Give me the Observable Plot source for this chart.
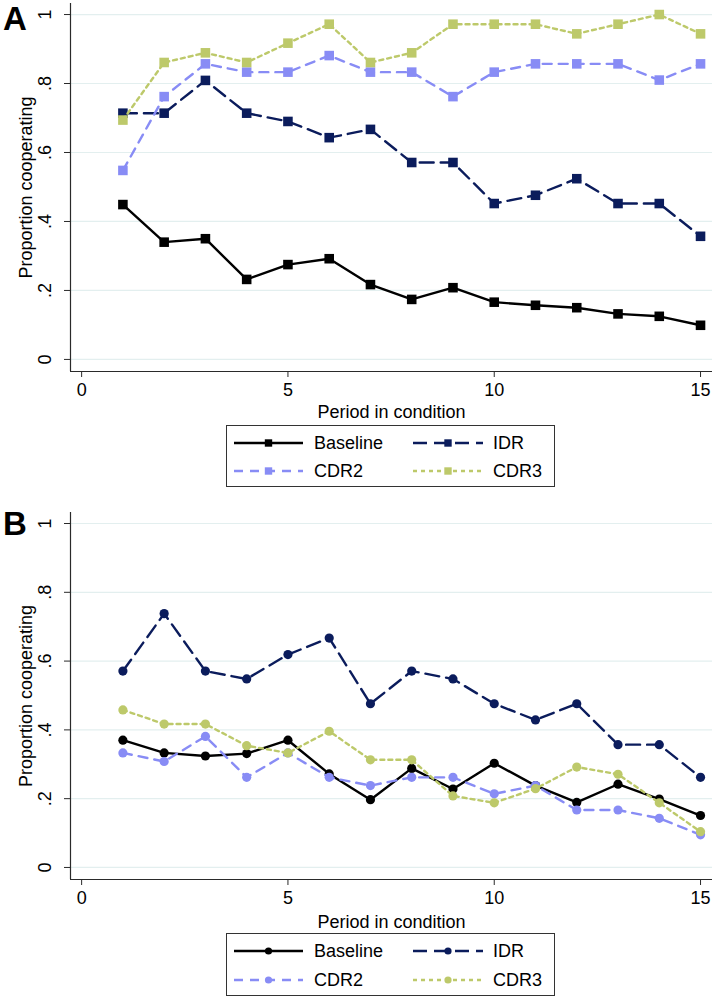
<!DOCTYPE html>
<html><head><meta charset="utf-8">
<script src="https://cdn.jsdelivr.net/npm/d3@7"></script>
<script src="https://cdn.jsdelivr.net/npm/@observablehq/plot@0.6"></script>
<style>
body{margin:0;background:#fff;font-family:"Liberation Sans",Arial,sans-serif;}
#wrap{position:relative;width:714px;height:998px;overflow:hidden;}
.panel{position:absolute;left:0;}
.panel text{font-size:18px;}
.letter{position:absolute;font-weight:bold;font-size:33px;line-height:1;font-family:"Liberation Sans",Arial,sans-serif;}
.legend{position:absolute;}
</style></head><body><div id="wrap"></div>
<script>
const periods = [1,2,3,4,5,6,7,8,9,10,11,12,13,14,15];
const seriesNames = ["Baseline","IDR","CDR2","CDR3"];
const seriesColors = ["#000000","#0b1c5c","#888cf5","#bdc96a"];
const seriesDashes = ["none","14,7","9,7","4,4"];
const yTicks = [0,0.2,0.4,0.6,0.8,1];
const xTicks = [0,5,10,15];
const xLabel = "Period in condition";
const yLabel = "Proportion cooperating";

// Panel A
const aBaseline = [0.449,0.340,0.350,0.232,0.275,0.292,0.217,0.174,0.208,0.166,0.157,0.150,0.132,0.125,0.099];
const aIDR      = [0.714,0.714,0.809,0.714,0.690,0.643,0.667,0.571,0.571,0.452,0.476,0.524,0.452,0.452,0.357];
const aCDR2     = [0.548,0.762,0.857,0.833,0.833,0.881,0.833,0.833,0.762,0.833,0.857,0.857,0.857,0.810,0.857];
const aCDR3     = [0.694,0.861,0.889,0.861,0.917,0.972,0.861,0.889,0.972,0.972,0.972,0.944,0.972,1.000,0.944];
// Panel B
const bBaseline = [0.370,0.333,0.324,0.331,0.370,0.272,0.197,0.288,0.228,0.303,0.238,0.189,0.242,0.199,0.151];
const bIDR      = [0.571,0.738,0.571,0.548,0.619,0.667,0.476,0.571,0.548,0.476,0.429,0.476,0.357,0.357,0.262];
const bCDR2     = [0.333,0.308,0.381,0.262,0.333,0.262,0.238,0.262,0.262,0.214,0.238,0.167,0.167,0.143,0.095];
const bCDR3     = [0.458,0.417,0.417,0.354,0.333,0.396,0.313,0.313,0.208,0.188,0.229,0.292,0.271,0.188,0.104];

const panels = [
  {letter:"A", series:[aBaseline,aIDR,aCDR2,aCDR3], symbol:"square", r:5.4, legendR:4.1},
  {letter:"B", series:[bBaseline,bIDR,bCDR2,bCDR3], symbol:"circle", r:4.6, legendR:3.6}
];

const layout = [
  {top:0, height:420, marginTop:3, marginBottom:49, labelOffset:46, letterTop:2, legendTop:425, legendH:62},
  {top:490, height:440, marginTop:22, marginBottom:51, labelOffset:48, letterTop:507, legendTop:933, legendH:63}
];

const wrap = document.getElementById("wrap");
const fmt = d => d === 0 ? "0" : d === 1 ? "1" : String(+d.toFixed(1)).replace(/^0\./, ".");
const axisColor = "#2a2a2a";

panels.forEach((p, pi) => {
  const L = layout[pi];
  const marks = [
    Plot.gridY(yTicks, {stroke:"#e3efef", strokeOpacity:1, strokeWidth:1.2}),
    Plot.ruleX([-0.27], {stroke:axisColor, strokeWidth:1.2}),
    Plot.ruleY([-0.035], {stroke:axisColor, strokeWidth:1.2}),
    Plot.axisY({ticks:yTicks, tickFormat:fmt, tickSize:6, tickPadding:14, tickRotate:-90,
      textAnchor:"middle", lineAnchor:"bottom", fontSize:18, stroke:axisColor,
      label:yLabel, labelAnchor:"center", labelOffset:51, labelArrow:false}),
    Plot.axisX({ticks:xTicks, tickSize:6, tickPadding:6, fontSize:18, stroke:axisColor,
      label:xLabel, labelAnchor:"center", labelOffset:L.labelOffset, labelArrow:false})
  ];
  p.series.forEach((vals, si) => {
    const rows = periods.map((x, i) => ({x, y: vals[i]}));
    marks.push(Plot.line(rows, {x:"x", y:"y", stroke:seriesColors[si], strokeWidth:2.4,
      strokeDasharray: seriesDashes[si] === "none" ? undefined : seriesDashes[si]}));
    marks.push(Plot.dot(rows, {x:"x", y:"y", symbol:p.symbol, r:p.r, fill:seriesColors[si], stroke:"none"}));
  });
  const chart = Plot.plot({
    width:714, height:L.height,
    marginLeft:70, marginRight:2, marginTop:L.marginTop, marginBottom:L.marginBottom,
    style:{fontFamily:"Liberation Sans, Arial, sans-serif", fontSize:"18px", color:"#000", background:"transparent"},
    x:{domain:[-0.27,15.29], labelArrow:false},
    y:{domain:[-0.035,1.032], labelArrow:false},
    marks
  });
  chart.classList.add("panel");
  chart.style.top = L.top + "px";
  wrap.appendChild(chart);

  const letter = document.createElement("div");
  letter.className = "letter";
  letter.textContent = p.letter;
  letter.style.left = "3px";
  letter.style.top = L.letterTop + "px";
  wrap.appendChild(letter);

  const lw = 329, lh = L.legendH;
  const svg = d3.create("svg").attr("class","legend").attr("width", lw).attr("height", lh)
    .style("left","226px").style("top", L.legendTop + "px")
    .style("font-family","Liberation Sans, Arial, sans-serif").style("font-size","18px");
  svg.append("rect").attr("x",0.5).attr("y",0.5).attr("width",lw-1).attr("height",lh-1)
    .attr("fill","#fff").attr("stroke","#333").attr("stroke-width",1);
  const pos = [{x0:8,x1:77,tx:88,y:18},{x0:187,x1:257,tx:267,y:18},{x0:8,x1:77,tx:88,y:lh-16},{x0:187,x1:257,tx:267,y:lh-16}];
  [0,1,2,3].forEach((si, k) => {
    const q = pos[k];
    svg.append("line").attr("x1",q.x0).attr("x2",q.x1).attr("y1",q.y).attr("y2",q.y)
      .attr("stroke",seriesColors[si]).attr("stroke-width",2.4)
      .attr("stroke-dasharray", seriesDashes[si] === "none" ? null : seriesDashes[si]);
    const cx = (q.x0 + q.x1)/2;
    if (p.symbol === "square") {
      const s = p.legendR*1.8;
      svg.append("rect").attr("x",cx-s/2).attr("y",q.y-s/2).attr("width",s).attr("height",s).attr("fill",seriesColors[si]);
    } else {
      svg.append("circle").attr("cx",cx).attr("cy",q.y).attr("r",p.legendR).attr("fill",seriesColors[si]);
    }
    svg.append("text").attr("x",q.tx).attr("y",q.y).attr("dy","0.35em").text(seriesNames[si]);
  });
  wrap.appendChild(svg.node());
});
</script></body></html>
